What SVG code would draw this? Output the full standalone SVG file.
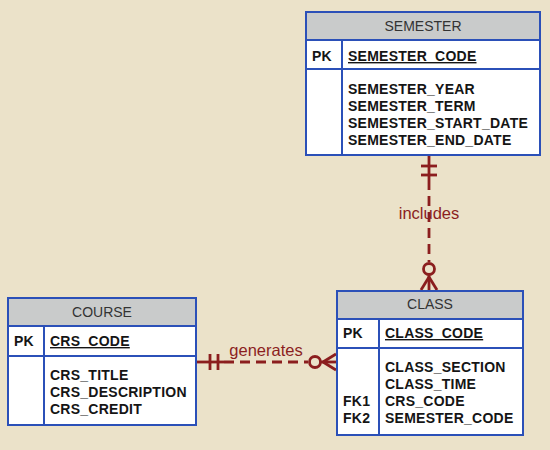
<svg xmlns="http://www.w3.org/2000/svg" width="550" height="450" viewBox="0 0 550 450">
<style>
.box{fill:#ffffff;stroke:#2b50b8;stroke-width:2}
.hdr{fill:#c9cbcb;stroke:#2b50b8;stroke-width:2}
.ln{stroke:#2b50b8;stroke-width:2;fill:none}
.title{font-family:"Liberation Sans",Arial,sans-serif;font-size:14px;fill:#333333;text-anchor:middle}
.f{font-family:"Liberation Sans",Arial,sans-serif;font-size:14px;font-weight:bold;fill:#151515;letter-spacing:0.25px}
.pk{text-decoration:underline}
.rel{stroke:#8b1e1e;stroke-width:2.8;fill:none}
.dash{stroke-dasharray:10,6}
.lbl{font-family:"Liberation Sans",Arial,sans-serif;font-size:16.5px;fill:#8b1e1e;text-anchor:middle}
</style>
<rect width="550" height="450" fill="#ebe2c9"/>
<g id="connectors">
  <g id="includes">
    <line class="rel dash" x1="429" y1="180" x2="429" y2="262"/>
    <line class="rel" x1="429" y1="156" x2="429" y2="180"/>
    <line class="rel" x1="421" y1="166" x2="437" y2="166"/>
    <line class="rel" x1="421" y1="175" x2="437" y2="175"/>
    <circle class="rel" cx="429" cy="269" r="5.5" fill="#ebe2c9"/>
    <line class="rel" x1="429" y1="275" x2="429" y2="290"/>
    <line class="rel" x1="429" y1="277" x2="421" y2="290"/>
    <line class="rel" x1="429" y1="277" x2="437" y2="290"/>
    <text class="lbl" x="429" y="219">includes</text>
  </g>
  <g id="generates">
    <line class="rel dash" x1="224" y1="362" x2="308" y2="362"/>
    <line class="rel" x1="197" y1="362" x2="224" y2="362"/>
    <line class="rel" x1="210" y1="354" x2="210" y2="370"/>
    <line class="rel" x1="218" y1="354" x2="218" y2="370"/>
    <circle class="rel" cx="315" cy="362" r="5.5" fill="#ebe2c9"/>
    <line class="rel" x1="321" y1="362" x2="336" y2="362"/>
    <line class="rel" x1="323" y1="362" x2="336" y2="354"/>
    <line class="rel" x1="323" y1="362" x2="336" y2="370"/>
    <text class="lbl" x="266" y="356">generates</text>
  </g>
</g>
<g id="semester">
  <rect class="box" x="306" y="12" width="234" height="143"/>
  <rect class="hdr" x="306" y="12" width="234" height="28"/>
  <line class="ln" x1="306" y1="69" x2="540" y2="69"/>
  <line class="ln" x1="342" y1="40" x2="342" y2="155"/>
  <text class="title" x="423" y="31">SEMESTER</text>
  <text class="f" x="312" y="61">PK</text>
  <text class="f pk" x="348" y="61">SEMESTER_CODE</text>
  <text class="f" x="348" y="94">SEMESTER_YEAR</text>
  <text class="f" x="348" y="111">SEMESTER_TERM</text>
  <text class="f" x="348" y="128">SEMESTER_START_DATE</text>
  <text class="f" x="348" y="145">SEMESTER_END_DATE</text>
</g>
<g id="course">
  <rect class="box" x="8" y="298" width="188" height="127"/>
  <rect class="hdr" x="8" y="298" width="188" height="28"/>
  <line class="ln" x1="8" y1="356" x2="196" y2="356"/>
  <line class="ln" x1="44" y1="326" x2="44" y2="425"/>
  <text class="title" x="102" y="317">COURSE</text>
  <text class="f" x="14" y="346">PK</text>
  <text class="f pk" x="50" y="346">CRS_CODE</text>
  <text class="f" x="50" y="380">CRS_TITLE</text>
  <text class="f" x="50" y="397">CRS_DESCRIPTION</text>
  <text class="f" x="50" y="414">CRS_CREDIT</text>
</g>
<g id="class">
  <rect class="box" x="337" y="291" width="186" height="144"/>
  <rect class="hdr" x="337" y="291" width="186" height="28"/>
  <line class="ln" x1="337" y1="348" x2="523" y2="348"/>
  <line class="ln" x1="379" y1="319" x2="379" y2="435"/>
  <text class="title" x="430" y="309">CLASS</text>
  <text class="f" x="343" y="338">PK</text>
  <text class="f pk" x="385" y="338">CLASS_CODE</text>
  <text class="f" x="385" y="372">CLASS_SECTION</text>
  <text class="f" x="385" y="389">CLASS_TIME</text>
  <text class="f" x="343" y="406">FK1</text>
  <text class="f" x="385" y="406">CRS_CODE</text>
  <text class="f" x="343" y="423">FK2</text>
  <text class="f" x="385" y="423">SEMESTER_CODE</text>
</g>
</svg>
